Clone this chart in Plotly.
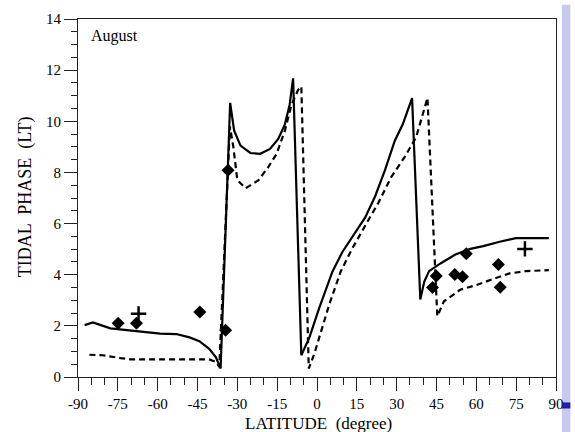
import plotly.graph_objects as go

# ---- data ----
solid_lat = [-87.5, -84.4, -77.8, -71.5, -65.3, -59.1, -53.0, -48.0, -44.3, -40.6, -38.1, -36.3,
             -32.7, -31.2, -28.8, -25.1, -21.4, -17.7, -14.6, -12.1, -10.3, -9.0,
             -5.9, -2.85, 0.85, 5.8, 9.5, 14.4, 18.1, 21.9, 25.6, 29.3, 32.3, 35.8,
             38.9, 40.4, 42.2, 46.5, 52.1, 57.7, 62.6, 68.8, 74.9, 87.3]
solid_val = [2.03, 2.13, 1.90, 1.83, 1.78, 1.70, 1.68, 1.55, 1.40, 1.10, 0.78, 0.33,
             10.72, 9.63, 9.05, 8.76, 8.73, 8.92, 9.31, 9.88, 10.65, 11.68,
             0.85, 1.55, 2.70, 4.12, 4.88, 5.65, 6.23, 7.07, 8.09, 9.24, 9.88, 10.91,
             3.03, 3.73, 4.14, 4.44, 4.79, 5.01, 5.12, 5.29, 5.43, 5.43]

dashed_lat = [-85.7, -80.7, -74.0, -70.3, -60.0, -50.0, -40.6, -38.1, -36.8,
              -32.8, -31.5, -30.0, -26.9, -22.0, -18.3, -15.2, -12.1, -9.6, -7.1, -5.9,
              -3.1, -1.0, 1.5, 4.6, 8.9, 13.2, 18.1, 23.1, 28.0, 33.0, 37.3, 39.7, 41.6,
              45.3, 47.8, 53.9, 60.1, 66.3, 72.5, 78.6, 87.3]
dashed_val = [0.87, 0.85, 0.74, 0.69, 0.69, 0.69, 0.69, 0.59, 0.40,
              9.80, 9.00, 7.70, 7.38, 7.70, 8.22, 8.73, 9.63, 10.65, 11.23, 11.36,
              0.33, 0.91, 1.81, 2.83, 4.12, 5.01, 5.91, 6.81, 7.83, 8.60, 9.37, 10.27, 10.91,
              2.38, 2.96, 3.41, 3.60, 3.83, 4.05, 4.14, 4.18]

diamond_lat = [-74.9, -68.0, -44.1, -34.4, -33.5, 43.5, 44.9, 51.9, 54.8, 56.2, 68.3, 69.0]
diamond_val = [2.10, 2.10, 2.54, 1.83, 8.09, 3.50, 3.95, 4.01, 3.92, 4.82, 4.40, 3.51]

plus_lat = [-67.2, 78.3]
plus_val = [2.47, 5.01]

x_ticks = [-90, -75, -60, -45, -30, -15, 0, 15, 30, 45, 60, 75, 90]
y_ticks = [0, 2, 4, 6, 8, 10, 12, 14]

FONT = "Liberation Serif"

fig = go.Figure()
fig.add_trace(go.Scatter(x=dashed_lat, y=dashed_val, mode="lines",
                         line=dict(color="black", width=2.2, dash="6px,4px"),
                         showlegend=False, hoverinfo="skip"))
fig.add_trace(go.Scatter(x=solid_lat, y=solid_val, mode="lines",
                         line=dict(color="black", width=2.2),
                         showlegend=False, hoverinfo="skip"))
fig.add_trace(go.Scatter(x=diamond_lat, y=diamond_val, mode="markers",
                         marker=dict(symbol="diamond", size=10, color="black"),
                         showlegend=False))
fig.add_trace(go.Scatter(x=plus_lat, y=plus_val, mode="markers",
                         marker=dict(symbol="cross-thin", size=11,
                                     line=dict(color="black", width=2.5)),
                         showlegend=False))

fig.update_layout(
    width=575, height=432,
    margin=dict(l=78, r=11, t=13, b=55),
    paper_bgcolor="white", plot_bgcolor="white",
    font=dict(family=FONT, color="black", size=15),
    xaxis=dict(range=[-90, 90], tickvals=x_ticks, ticktext=[str(v) for v in x_ticks],
               ticks="outside", ticklen=13, tickwidth=1.2, tickcolor="#222",
               showgrid=False, zeroline=False, showline=True, linecolor="#222",
               linewidth=1.2, mirror=True, ticklabelstandoff=0,
               tickfont=dict(family=FONT, size=15),
               minor=dict(dtick=5, ticks="outside", ticklen=7, tickwidth=1.2, tickcolor="#222")),
    yaxis=dict(range=[0, 14], tickvals=y_ticks, ticktext=[str(v) for v in y_ticks],
               ticks="outside", ticklen=13, tickwidth=1.2, tickcolor="#222",
               showgrid=False, zeroline=False, showline=True, linecolor="#222",
               linewidth=1.2, mirror=True,
               tickfont=dict(family=FONT, size=15),
               minor=dict(dtick=0.5, ticks="outside", ticklen=6, tickwidth=1.2, tickcolor="#222")),
    annotations=[
        dict(text="August", xref="paper", yref="paper", x=0.024, y=0.952,
             xanchor="left", yanchor="middle", showarrow=False,
             font=dict(family=FONT, size=16)),
        dict(text="LATITUDE  (degree)", xref="paper", yref="paper", x=0.504, y=-0.131,
             xanchor="center", yanchor="middle", showarrow=False,
             font=dict(family=FONT, size=17)),
        dict(text="TIDAL  PHASE  (LT)", xref="paper", yref="paper", x=-0.111, y=0.505,
             xanchor="center", yanchor="middle", showarrow=False, textangle=-90,
             font=dict(family=FONT, size=18)),
    ],
    shapes=[
        dict(type="rect", xref="paper", yref="paper", x0=1.0123, x1=1.03,
             y0=-0.16, y1=1.04, fillcolor="#c8c8f2", line=dict(width=0), layer="below"),
        dict(type="rect", xref="paper", yref="paper", x0=1.0123, x1=1.03,
             y0=-0.088, y1=-0.071, fillcolor="#1e1ea8", line=dict(width=0)),
    ],
)

fig.write_html("out.html", config={"displayModeBar": False},
               post_script="document.body.style.margin='0';document.body.style.overflow='hidden';")
